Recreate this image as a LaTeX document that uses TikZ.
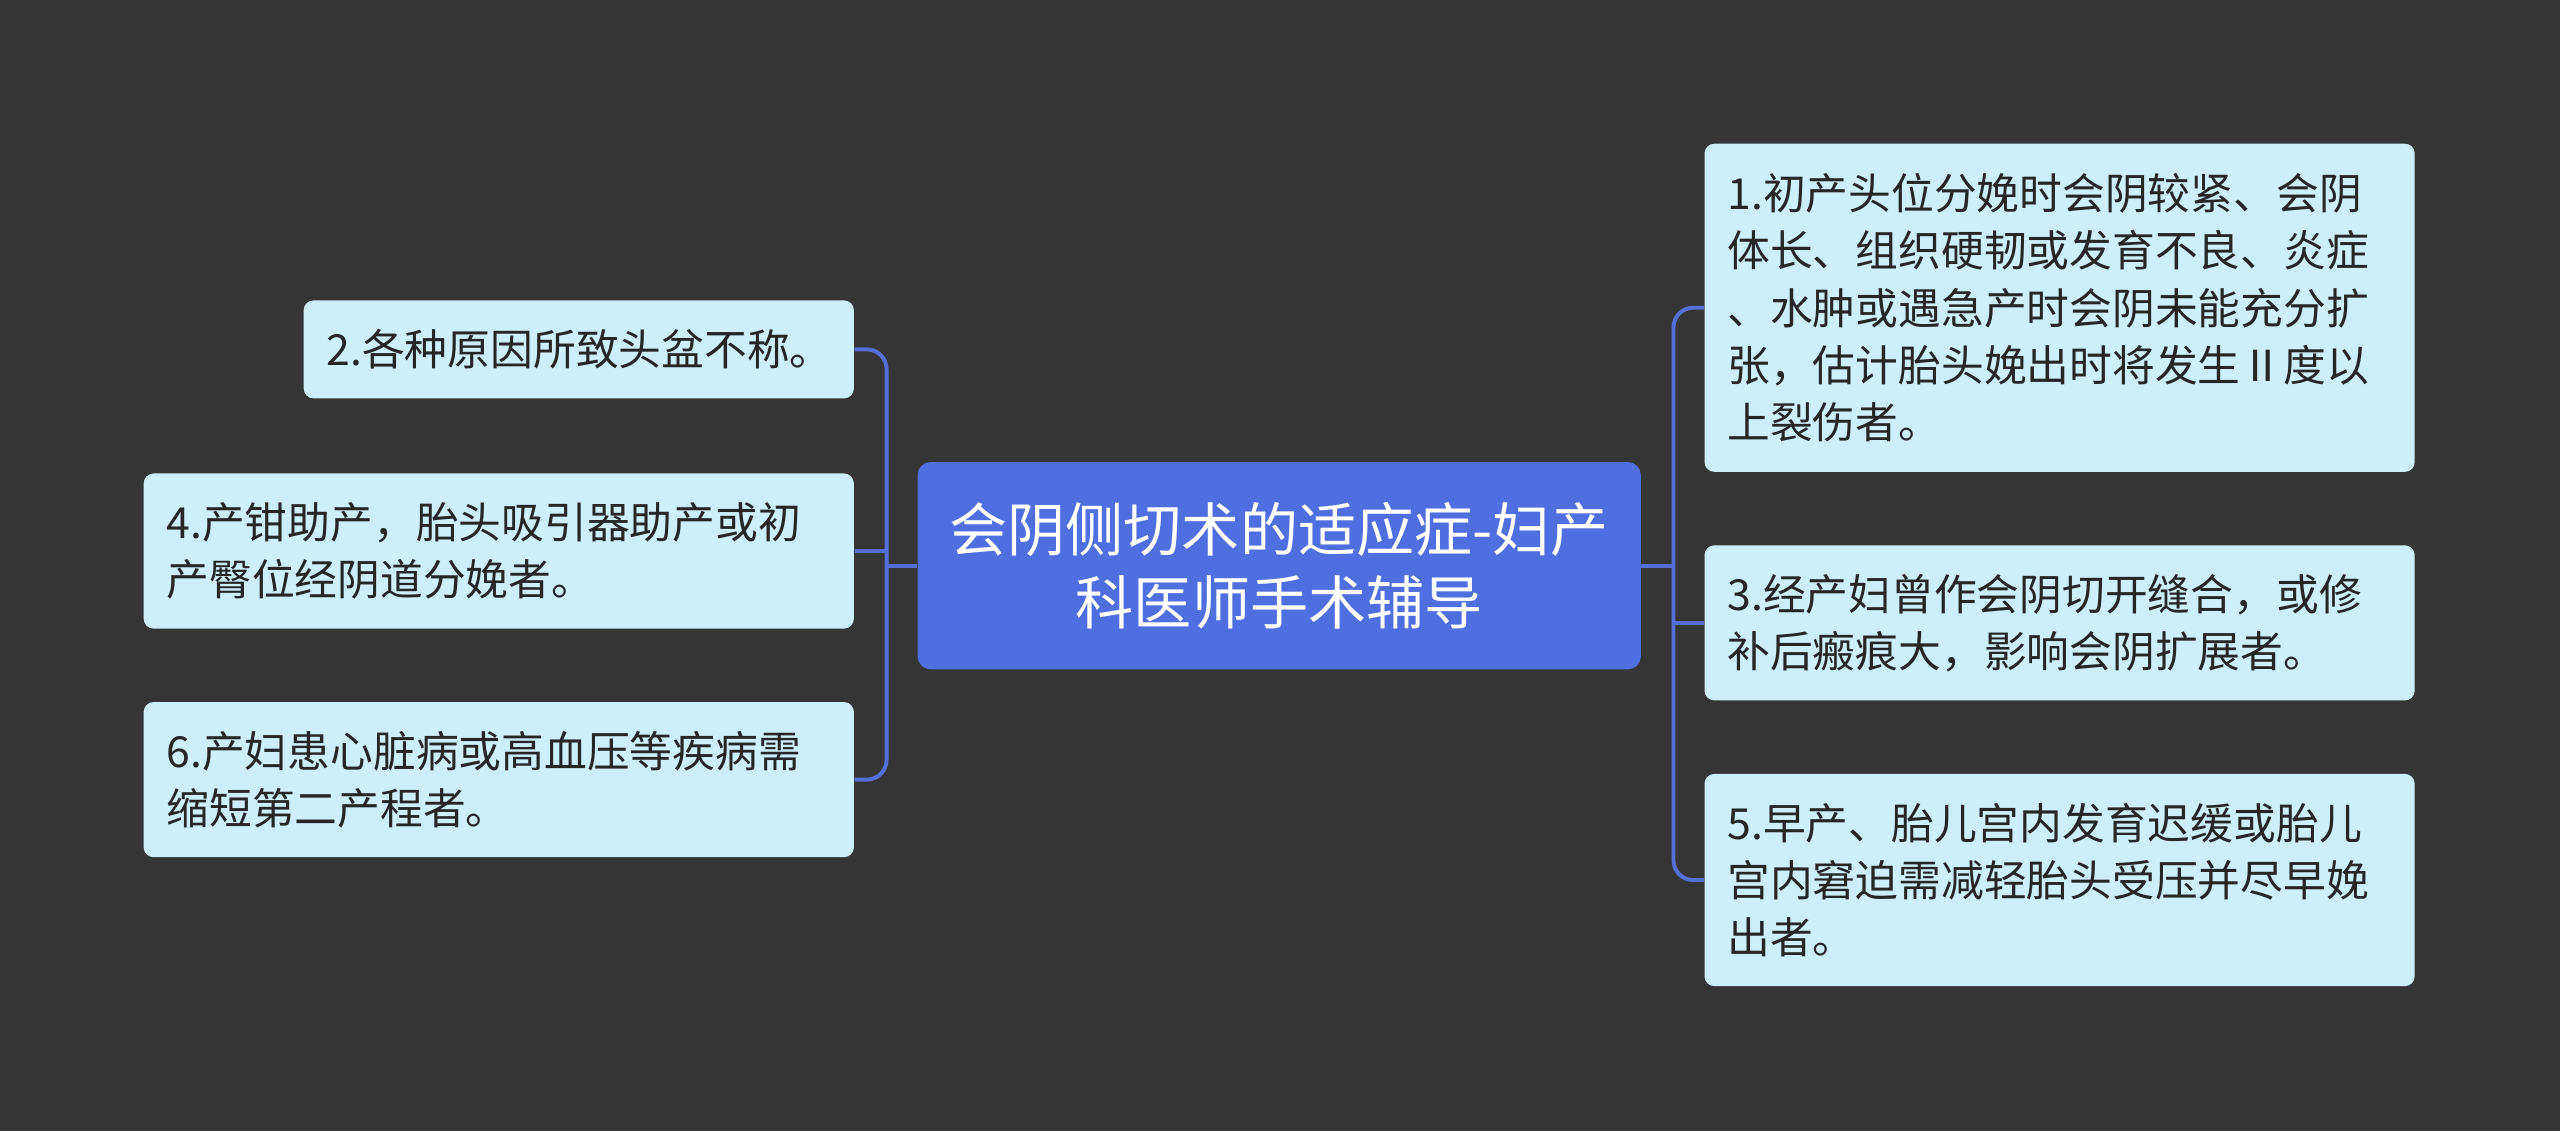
\documentclass[tikz,border=0pt]{standalone}
\usepackage{fontspec}
\setmainfont{Noto Sans CJK SC}
\begin{document}
\begin{tikzpicture}[x=0.5pt,y=-0.5pt,
  leaf/.style={draw=none,fill=leafc,rounded corners=3pt,inner xsep=7pt,inner ysep=0pt,
     align=left,font=\fontsize{13.1}{17.5}\selectfont,text=black!85,anchor=center},
  conn/.style={draw=linec,line width=1.2pt,rounded corners=6pt}]
\definecolor{bg}{HTML}{363536}
\definecolor{leafc}{HTML}{CDEFFC}
\definecolor{linec}{HTML}{5470D8}
\definecolor{mainc}{HTML}{4F6FE0}
\fill[bg] (0,0) rectangle (1568,693);
\useasboundingbox (0,0) rectangle (1568,693);
\node[fill=mainc,rounded corners=4pt,minimum width=221.5pt,minimum height=63.5pt,align=center,text=white,font=\fontsize{17.8}{22.5}\selectfont] (c) at (783.5,346.5) {会阴侧切术的适应症-妇产\\科医师手术辅导};
\node[leaf,minimum width=168.5pt,minimum height=30pt,text width=154.5pt] (n2) at (354.5,214) {2.各种原因所致头盆不称。};
\node[leaf,minimum width=217.5pt,minimum height=47.5pt,text width=203.5pt] (n4) at (305.5,337.5) {4.产钳助产，胎头吸引器助产或初\\产臀位经阴道分娩者。};
\node[leaf,minimum width=217.5pt,minimum height=47.5pt,text width=203.5pt] (n6) at (305.5,477.5) {6.产妇患心脏病或高血压等疾病需\\缩短第二产程者。};
\node[leaf,minimum width=217.5pt,minimum height=100.5pt,text width=203.5pt] (n1) at (1261.5,188.5) {1.初产头位分娩时会阴较紧、会阴\\体长、组织硬韧或发育不良、炎症\\、水肿或遇急产时会阴未能充分扩\\张，估计胎头娩出时将发生Ⅱ度以\\上裂伤者。};
\node[leaf,minimum width=217.5pt,minimum height=47.5pt,text width=203.5pt] (n3) at (1261.5,381.5) {3.经产妇曾作会阴切开缝合，或修\\补后瘢痕大，影响会阴扩展者。};
\node[leaf,minimum width=217.5pt,minimum height=65pt,text width=203.5pt] (n5) at (1261.5,539) {5.早产、胎儿宫内发育迟缓或胎儿\\宫内窘迫需减轻胎头受压并尽早娩\\出者。};
\coordinate (lx) at (543,346.5);
\coordinate (rx) at (1025,346.5);
\draw[conn] (c.west) -- (lx);
\draw[conn] (n2.east) -- (lx|-n2.east) -- (lx|-n6.east) -- (n6.east);
\draw[conn] (n4.east) -- (lx|-n4.east);
\draw[conn] (c.east) -- (rx);
\draw[conn] (n1.west) -- (rx|-n1.west) -- (rx|-n5.west) -- (n5.west);
\draw[conn] (n3.west) -- (rx|-n3.west);
\end{tikzpicture}
\end{document}
